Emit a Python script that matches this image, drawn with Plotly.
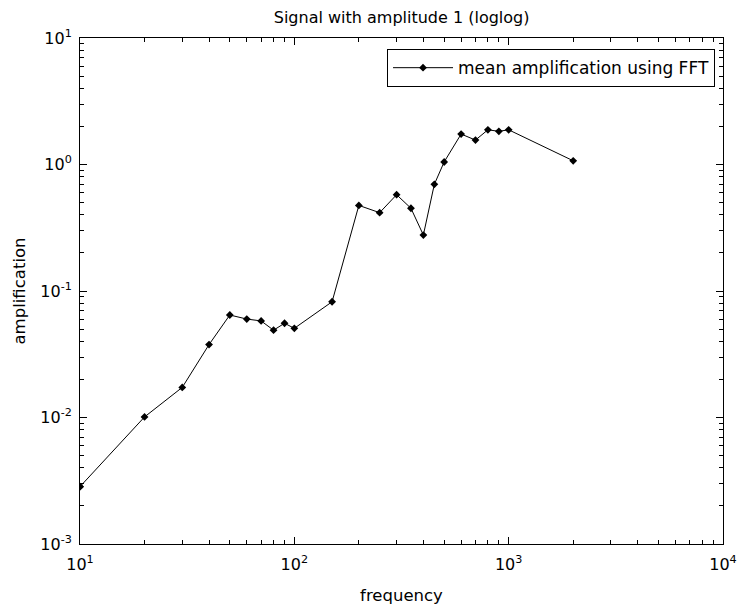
import plotly.graph_objects as go

frequency = [10, 20, 30, 40, 50, 60, 70, 80, 90, 100, 150, 200, 250, 300, 350, 400,
             450, 500, 600, 700, 800, 900, 1000, 2000]
amplification = [0.00284, 0.0101, 0.0173, 0.0377, 0.0646, 0.060, 0.058, 0.049, 0.0556,
                 0.0507, 0.0822, 0.475, 0.416, 0.577, 0.451, 0.277, 0.697, 1.047,
                 1.74, 1.56, 1.88, 1.83, 1.88, 1.07]

x_tickvals = [10, 100, 1000, 10000]
x_ticktext = ["10<sup>1</sup>", "10<sup>2</sup>", "10<sup>3</sup>", "10<sup>4</sup>"]
y_tickvals = [0.001, 0.01, 0.1, 1, 10]
y_ticktext = ["10<sup>-3</sup>", "10<sup>-2</sup>", "10<sup>-1</sup>", "10<sup>0</sup>", "10<sup>1</sup>"]
x_minor = [m * d for d in (10, 100, 1000) for m in range(2, 10)]
y_minor = [m * d for d in (0.001, 0.01, 0.1, 1) for m in range(2, 10)]

font_family = "DejaVu Sans, sans-serif"

fig = go.Figure()
fig.add_trace(go.Scatter(
    x=frequency, y=amplification, mode="lines+markers",
    name="mean amplification using FFT",
    line=dict(color="black", width=1),
    marker=dict(symbol="diamond", size=6, color="black"),
))

axis_common = dict(
    showline=True, linecolor="black", linewidth=1, mirror="allticks",
    ticks="inside", ticklen=7, tickcolor="black", tickwidth=1,
    showgrid=False, zeroline=False, automargin=False,
    tickfont=dict(family=font_family, size=16, color="black"),
)

fig.update_xaxes(type="log", range=[1, 4], tickmode="array", tickvals=x_tickvals, ticktext=x_ticktext,
                 ticklabelstandoff=6,
                 title=dict(text="frequency", font=dict(family=font_family, size=16.5, color="black"),
                            standoff=16),
                 **axis_common)
fig.update_yaxes(type="log", range=[-3, 1], tickmode="array", tickvals=y_tickvals, ticktext=y_ticktext,
                 ticklabelstandoff=4,
                 title=dict(text="amplification", font=dict(family=font_family, size=16.5, color="black"),
                            standoff=10),
                 **axis_common)

minor_common = dict(
    type="log", showline=False, ticks="inside", ticklen=4, tickcolor="black", tickwidth=1,
    mirror="allticks", showticklabels=False, showgrid=False, zeroline=False,
    automargin=False, tickmode="array",
)

fig.update_layout(
    xaxis2=dict(overlaying="x", range=[1, 4], tickvals=x_minor, side="bottom", **minor_common),
    yaxis2=dict(overlaying="y", range=[-3, 1], tickvals=y_minor, side="left", **minor_common),
)
fig.add_trace(go.Scatter(x=[frequency[0]], y=[amplification[0]], xaxis="x2", yaxis="y2",
                         mode="markers", marker=dict(size=6, color="black", symbol="diamond"),
                         showlegend=False, hoverinfo="skip"))

fig.update_layout(
    width=741, height=609,
    margin=dict(l=80, r=18, t=38, b=65),
    paper_bgcolor="white", plot_bgcolor="white",
    title=dict(text="Signal with amplitude 1 (loglog)", x=0.542, xanchor="center",
               y=0.972, yanchor="middle",
               font=dict(family=font_family, size=16, color="black")),
    showlegend=True,
    legend=dict(x=0.9876, xanchor="right", y=0.978, yanchor="top",
                bordercolor="black", borderwidth=1, bgcolor="white",
                itemwidth=60,
                font=dict(family=font_family, size=17, color="black")),
)

fig.write_html("out.html")
